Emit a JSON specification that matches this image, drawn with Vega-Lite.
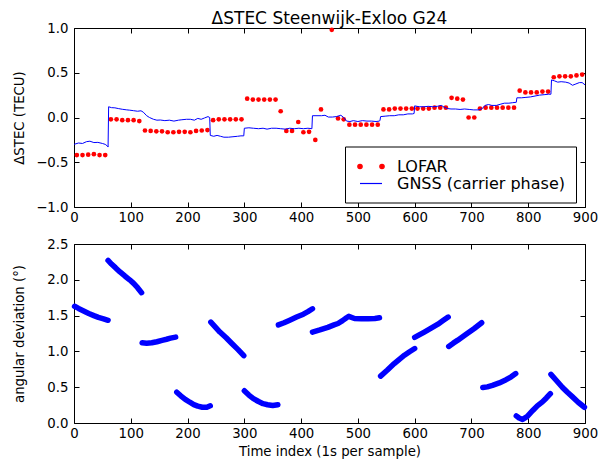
{
  "$schema": "https://vega.github.io/schema/vega-lite/v6.json",
  "padding": {"left": 11, "top": 9, "right": 5, "bottom": 0},
  "spacing": 12,
  "config": {
    "font": "DejaVu Sans",
    "view": {"stroke": "black", "strokeWidth": 1},
    "axis": {
      "domain": false, "grid": false, "ticks": true, "tickColor": "black", "tickSize": -5, "tickWidth": 1,
      "labelPadding": 11, "labelFont": "DejaVu Sans", "labelFontSize": 13.3, "labelColor": "black",
      "titleFont": "DejaVu Sans", "titleFontSize": 13.3, "titleFontWeight": "normal", "titleColor": "black",
      "labelFlush": false, "labelOverlap": false
    },
    "axisX": {"labelPadding": 8}
  },
  "datasets": {
    "lofar": [
      {"t":5,"v":-0.42},{"t":15,"v":-0.42},{"t":25,"v":-0.415},{"t":35,"v":-0.41},{"t":45,"v":-0.42},{"t":55,"v":-0.42},
      {"t":65,"v":-0.02},{"t":75,"v":-0.02},{"t":85,"v":-0.03},{"t":95,"v":-0.03},{"t":105,"v":-0.03},{"t":115,"v":-0.04},
      {"t":125,"v":-0.145},{"t":135,"v":-0.15},{"t":145,"v":-0.155},{"t":155,"v":-0.155},{"t":165,"v":-0.165},{"t":175,"v":-0.165},
      {"t":185,"v":-0.16},{"t":195,"v":-0.16},{"t":205,"v":-0.165},{"t":215,"v":-0.15},{"t":225,"v":-0.145},{"t":235,"v":-0.14},
      {"t":245,"v":-0.03},{"t":255,"v":-0.02},{"t":265,"v":-0.02},{"t":275,"v":-0.02},{"t":285,"v":-0.02},{"t":295,"v":-0.02},
      {"t":305,"v":0.21},{"t":315,"v":0.2},{"t":325,"v":0.2},{"t":335,"v":0.2},{"t":345,"v":0.2},{"t":355,"v":0.2},
      {"t":364,"v":0.07},{"t":374,"v":-0.15},{"t":384,"v":-0.15},{"t":395,"v":-0.05},{"t":404,"v":-0.165},{"t":414,"v":-0.16},
      {"t":425,"v":-0.25},{"t":435,"v":0.09},{"t":454,"v":0.98},{"t":465,"v":-0.01},{"t":475,"v":-0.02},
      {"t":485,"v":-0.08},{"t":495,"v":-0.08},{"t":505,"v":-0.08},{"t":515,"v":-0.08},{"t":525,"v":-0.08},{"t":535,"v":-0.08},
      {"t":545,"v":0.09},{"t":555,"v":0.09},{"t":565,"v":0.1},{"t":575,"v":0.1},{"t":585,"v":0.1},{"t":595,"v":0.1},
      {"t":605,"v":0.1},{"t":615,"v":0.1},{"t":625,"v":0.1},{"t":635,"v":0.11},{"t":645,"v":0.11},{"t":655,"v":0.11},
      {"t":665,"v":0.22},{"t":675,"v":0.21},{"t":685,"v":0.2},{"t":695,"v":0.0},{"t":705,"v":0.0},{"t":715,"v":0.1},
      {"t":725,"v":0.11},{"t":735,"v":0.11},{"t":745,"v":0.11},{"t":755,"v":0.11},{"t":765,"v":0.11},{"t":775,"v":0.11},
      {"t":785,"v":0.3},{"t":795,"v":0.28},{"t":805,"v":0.28},{"t":815,"v":0.28},{"t":825,"v":0.29},{"t":835,"v":0.29},
      {"t":845,"v":0.45},{"t":855,"v":0.46},{"t":865,"v":0.46},{"t":875,"v":0.46},{"t":885,"v":0.47},{"t":895,"v":0.48}
    ],
    "gnss": [
      {"t":0,"v":-0.3},{"t":8,"v":-0.285},{"t":15,"v":-0.29},{"t":22,"v":-0.27},{"t":28,"v":-0.265},{"t":35,"v":-0.28},
      {"t":42,"v":-0.278},{"t":50,"v":-0.29},{"t":55,"v":-0.3},{"t":59,"v":-0.32},{"t":60,"v":-0.33},
      {"t":61,"v":0.12},{"t":66,"v":0.11},{"t":72,"v":0.108},{"t":78,"v":0.1},{"t":85,"v":0.092},{"t":92,"v":0.086},
      {"t":98,"v":0.082},{"t":105,"v":0.076},{"t":112,"v":0.07},{"t":118,"v":0.075},{"t":122,"v":0.06},{"t":128,"v":0.02},
      {"t":133,"v":0.0},{"t":140,"v":-0.02},{"t":146,"v":-0.03},{"t":152,"v":-0.028},{"t":160,"v":-0.035},{"t":168,"v":-0.03},
      {"t":176,"v":-0.04},{"t":184,"v":-0.03},{"t":190,"v":-0.025},{"t":198,"v":-0.02},{"t":205,"v":-0.02},{"t":212,"v":-0.03},
      {"t":218,"v":-0.01},{"t":224,"v":-0.02},{"t":230,"v":-0.005},{"t":236,"v":0.01},{"t":239,"v":0.0},
      {"t":240,"v":-0.2},{"t":246,"v":-0.21},{"t":252,"v":-0.2},{"t":258,"v":-0.21},{"t":264,"v":-0.22},{"t":272,"v":-0.22},
      {"t":280,"v":-0.215},{"t":288,"v":-0.21},{"t":294,"v":-0.205},{"t":299,"v":-0.205},
      {"t":300,"v":-0.12},{"t":308,"v":-0.115},{"t":316,"v":-0.12},{"t":325,"v":-0.125},{"t":333,"v":-0.12},{"t":340,"v":-0.13},
      {"t":348,"v":-0.12},{"t":356,"v":-0.12},{"t":364,"v":-0.125},{"t":372,"v":-0.13},{"t":380,"v":-0.12},{"t":388,"v":-0.125},
      {"t":396,"v":-0.12},{"t":404,"v":-0.125},{"t":412,"v":-0.12},{"t":419,"v":-0.125},
      {"t":420,"v":0.02},{"t":428,"v":0.02},{"t":436,"v":0.02},{"t":442,"v":0.025},{"t":448,"v":0.005},{"t":455,"v":0.005},
      {"t":462,"v":0.01},{"t":470,"v":0.025},{"t":475,"v":0.0},{"t":480,"v":-0.04},{"t":486,"v":-0.045},{"t":492,"v":-0.035},
      {"t":500,"v":-0.045},{"t":508,"v":-0.035},{"t":516,"v":-0.04},{"t":524,"v":-0.04},{"t":532,"v":-0.045},{"t":538,"v":-0.04},
      {"t":539,"v":-0.03},{"t":540,"v":0.01},{"t":548,"v":0.015},{"t":556,"v":0.02},{"t":564,"v":0.02},{"t":572,"v":0.03},
      {"t":580,"v":0.03},{"t":588,"v":0.04},{"t":596,"v":0.04},{"t":599,"v":0.045},
      {"t":600,"v":0.13},{"t":608,"v":0.12},{"t":616,"v":0.12},{"t":624,"v":0.125},{"t":632,"v":0.12},{"t":640,"v":0.125},
      {"t":647,"v":0.135},{"t":652,"v":0.115},{"t":658,"v":0.1},{"t":664,"v":0.095},{"t":672,"v":0.095},{"t":680,"v":0.09},
      {"t":688,"v":0.095},{"t":696,"v":0.09},{"t":704,"v":0.085},{"t":712,"v":0.085},{"t":718,"v":0.095},{"t":724,"v":0.135},
      {"t":730,"v":0.145},{"t":736,"v":0.135},{"t":744,"v":0.135},{"t":752,"v":0.15},{"t":758,"v":0.16},{"t":766,"v":0.16},
      {"t":772,"v":0.165},{"t":779,"v":0.17},
      {"t":780,"v":0.22},{"t":788,"v":0.22},{"t":796,"v":0.225},{"t":804,"v":0.23},{"t":812,"v":0.24},{"t":820,"v":0.25},
      {"t":828,"v":0.255},{"t":836,"v":0.26},{"t":840,"v":0.26},
      {"t":841,"v":0.42},{"t":846,"v":0.41},{"t":852,"v":0.395},{"t":858,"v":0.4},{"t":866,"v":0.395},{"t":872,"v":0.385},
      {"t":878,"v":0.36},{"t":884,"v":0.375},{"t":890,"v":0.39},{"t":895,"v":0.39},{"t":900,"v":0.365}
    ],
    "angle": [
      {"t":1,"a":1.63,"seg":1},{"t":8,"a":1.6,"seg":1},{"t":17,"a":1.565,"seg":1},{"t":26,"a":1.53,"seg":1},{"t":35,"a":1.5,"seg":1},{"t":43,"a":1.475,"seg":1},{"t":52,"a":1.455,"seg":1},{"t":60,"a":1.435,"seg":1},
      {"t":60,"a":2.27,"seg":2},{"t":66,"a":2.22,"seg":2},{"t":73,"a":2.17,"seg":2},{"t":81,"a":2.11,"seg":2},{"t":90,"a":2.05,"seg":2},{"t":98,"a":2.0,"seg":2},{"t":105,"a":1.95,"seg":2},{"t":112,"a":1.89,"seg":2},{"t":119,"a":1.82,"seg":2},
      {"t":120,"a":1.12,"seg":3},{"t":128,"a":1.115,"seg":3},{"t":137,"a":1.12,"seg":3},{"t":146,"a":1.135,"seg":3},{"t":155,"a":1.155,"seg":3},{"t":163,"a":1.17,"seg":3},{"t":170,"a":1.185,"seg":3},{"t":179,"a":1.2,"seg":3},
      {"t":181,"a":0.43,"seg":4},{"t":188,"a":0.38,"seg":4},{"t":196,"a":0.33,"seg":4},{"t":204,"a":0.29,"seg":4},{"t":211,"a":0.257,"seg":4},{"t":218,"a":0.235,"seg":4},{"t":226,"a":0.22,"seg":4},{"t":234,"a":0.22,"seg":4},{"t":240,"a":0.24,"seg":4},
      {"t":241,"a":1.41,"seg":5},{"t":249,"a":1.34,"seg":5},{"t":257,"a":1.27,"seg":5},{"t":268,"a":1.19,"seg":5},{"t":278,"a":1.11,"seg":5},{"t":289,"a":1.025,"seg":5},{"t":299,"a":0.94,"seg":5},
      {"t":300,"a":0.45,"seg":6},{"t":308,"a":0.39,"seg":6},{"t":316,"a":0.34,"seg":6},{"t":325,"a":0.3,"seg":6},{"t":333,"a":0.27,"seg":6},{"t":341,"a":0.255,"seg":6},{"t":350,"a":0.245,"seg":6},{"t":359,"a":0.255,"seg":6},
      {"t":360,"a":1.37,"seg":7},{"t":370,"a":1.4,"seg":7},{"t":380,"a":1.436,"seg":7},{"t":392,"a":1.48,"seg":7},{"t":404,"a":1.52,"seg":7},{"t":412,"a":1.555,"seg":7},{"t":420,"a":1.595,"seg":7},
      {"t":420,"a":1.27,"seg":8},{"t":433,"a":1.3,"seg":8},{"t":447,"a":1.335,"seg":8},{"t":458,"a":1.37,"seg":8},{"t":465,"a":1.39,"seg":8},{"t":473,"a":1.43,"seg":8},{"t":480,"a":1.47,"seg":8},{"t":484,"a":1.49,"seg":8},{"t":494,"a":1.46,"seg":8},{"t":506,"a":1.455,"seg":8},{"t":518,"a":1.455,"seg":8},{"t":530,"a":1.46,"seg":8},{"t":538,"a":1.47,"seg":8},
      {"t":540,"a":0.655,"seg":9},{"t":552,"a":0.74,"seg":9},{"t":564,"a":0.83,"seg":9},{"t":573,"a":0.89,"seg":9},{"t":582,"a":0.947,"seg":9},{"t":591,"a":0.995,"seg":9},{"t":600,"a":1.04,"seg":9},
      {"t":600,"a":1.195,"seg":10},{"t":608,"a":1.23,"seg":10},{"t":617,"a":1.27,"seg":10},{"t":629,"a":1.325,"seg":10},{"t":641,"a":1.38,"seg":10},{"t":650,"a":1.43,"seg":10},{"t":659,"a":1.48,"seg":10},
      {"t":660,"a":1.07,"seg":11},{"t":668,"a":1.115,"seg":11},{"t":676,"a":1.157,"seg":11},{"t":690,"a":1.236,"seg":11},{"t":705,"a":1.32,"seg":11},{"t":718,"a":1.4,"seg":11},
      {"t":720,"a":0.495,"seg":12},{"t":728,"a":0.505,"seg":12},{"t":737,"a":0.525,"seg":12},{"t":749,"a":0.56,"seg":12},{"t":761,"a":0.605,"seg":12},{"t":770,"a":0.645,"seg":12},{"t":778,"a":0.69,"seg":12},
      {"t":779,"a":0.1,"seg":13},{"t":784,"a":0.07,"seg":13},{"t":790,"a":0.05,"seg":13},{"t":798,"a":0.09,"seg":13},{"t":808,"a":0.175,"seg":13},{"t":816,"a":0.24,"seg":13},{"t":825,"a":0.295,"seg":13},{"t":832,"a":0.35,"seg":13},{"t":839,"a":0.41,"seg":13},
      {"t":840,"a":0.68,"seg":14},{"t":850,"a":0.59,"seg":14},{"t":860,"a":0.5,"seg":14},{"t":869,"a":0.43,"seg":14},{"t":878,"a":0.365,"seg":14},{"t":888,"a":0.29,"seg":14},{"t":899,"a":0.22,"seg":14}
    ]
  },
  "vconcat": [
    {
      "width": 511, "height": 179,
      "title": {"text": "ΔSTEC Steenwijk-Exloo G24", "fontSize": 17, "fontWeight": "normal", "font": "DejaVu Sans", "color": "black", "offset": -6.5, "anchor": "middle"},
      "layer": [
        {
          "data": {"name": "lofar"},
          "mark": {"type": "point", "filled": true, "size": 22, "opacity": 1},
          "encoding": {
            "x": {"field": "t", "type": "quantitative", "scale": {"domain": [0, 900], "nice": false},
                  "axis": {"orient": "top", "labels": false, "title": null, "minExtent": 0, "maxExtent": 0, "values": [0,100,200,300,400,500,600,700,800,900]}},
            "y": {"field": "v", "type": "quantitative", "scale": {"domain": [-1, 1], "nice": false},
                  "axis": {"orient": "right", "labels": false, "title": null, "minExtent": 0, "maxExtent": 0, "values": [-1,-0.5,0,0.5,1]}},
            "color": {
              "datum": "LOFAR", "type": "nominal",
              "scale": {"domain": ["LOFAR", "GNSS (carrier phase)"], "range": ["#ff0000", "#0000ff"]},
              "legend": {
                "orient": "none", "legendX": 271, "legendY": 118.5, "title": null, "padding": 11,
                "fillColor": "white", "strokeColor": "black", "cornerRadius": 0,
                "labelFontSize": 16, "labelFont": "DejaVu Sans", "labelColor": "black", "labelLimit": 400,
                "symbolSize": 256, "symbolOffset": 6, "labelOffset": 17, "rowPadding": 0,
                "symbolType": {"expr": "datum.value === 'LOFAR' ? 'M -1.65 0 a 0.275 0.275 0 1 0 0.55 0 a 0.275 0.275 0 1 0 -0.55 0 Z M 1.1 0 a 0.275 0.275 0 1 0 0.55 0 a 0.275 0.275 0 1 0 -0.55 0 Z' : 'M -1.375 0 L 1.375 0'"},
                "symbolStrokeColor": {"expr": "datum.value === 'LOFAR' ? 'transparent' : '#0000ff'"},
                "symbolStrokeWidth": 1.2,
                "symbolOpacity": 1
              }
            }
          }
        },
        {
          "data": {"name": "gnss"},
          "mark": {"type": "line", "strokeWidth": 1},
          "encoding": {
            "x": {"field": "t", "type": "quantitative", "scale": {"domain": [0, 900], "nice": false},
                  "axis": {"orient": "bottom", "title": null, "format": "d", "values": [0,100,200,300,400,500,600,700,800,900]}},
            "y": {"field": "v", "type": "quantitative", "scale": {"domain": [-1, 1], "nice": false},
                  "axis": {"orient": "left", "title": "ΔSTEC (TECU)", "format": ".1f", "values": [-1,-0.5,0,0.5,1], "titleX": -55, "titleBaseline": "middle"}},
            "color": {"datum": "GNSS (carrier phase)", "type": "nominal"}
          }
        }
      ],
      "resolve": {"axis": {"x": "independent", "y": "independent"}}
    },
    {
      "width": 511, "height": 179,
      "layer": [
        {
          "data": {"name": "angle"},
          "transform": [{"filter": "datum.seg % 2 == 1"}],
          "mark": {"type": "line", "strokeWidth": 5.5, "strokeCap": "round", "strokeJoin": "round", "color": "#0000ff"},
          "encoding": {
            "x": {"field": "t", "type": "quantitative", "scale": {"domain": [0, 900], "nice": false},
                  "axis": {"orient": "bottom", "title": "Time index (1s per sample)", "format": "d", "titlePadding": 5, "values": [0,100,200,300,400,500,600,700,800,900]}},
            "y": {"field": "a", "type": "quantitative", "scale": {"domain": [0, 2.5], "nice": false},
                  "axis": {"orient": "left", "title": "angular deviation (°)", "format": ".1f", "values": [0,0.5,1,1.5,2,2.5], "titleX": -55, "titleBaseline": "middle"}},
            "detail": {"field": "seg", "type": "nominal"}
          }
        },
        {
          "data": {"name": "angle"},
          "transform": [{"filter": "datum.seg % 2 == 0"}],
          "mark": {"type": "line", "strokeWidth": 5.5, "strokeCap": "round", "strokeJoin": "round", "color": "#0000ff"},
          "encoding": {
            "x": {"field": "t", "type": "quantitative", "scale": {"domain": [0, 900], "nice": false},
                  "axis": {"orient": "top", "labels": false, "title": null, "minExtent": 0, "maxExtent": 0, "values": [0,100,200,300,400,500,600,700,800,900]}},
            "y": {"field": "a", "type": "quantitative", "scale": {"domain": [0, 2.5], "nice": false},
                  "axis": {"orient": "right", "labels": false, "title": null, "minExtent": 0, "maxExtent": 0, "values": [0,0.5,1,1.5,2,2.5]}},
            "detail": {"field": "seg", "type": "nominal"}
          }
        }
      ],
      "resolve": {"axis": {"x": "independent", "y": "independent"}}
    }
  ]
}
